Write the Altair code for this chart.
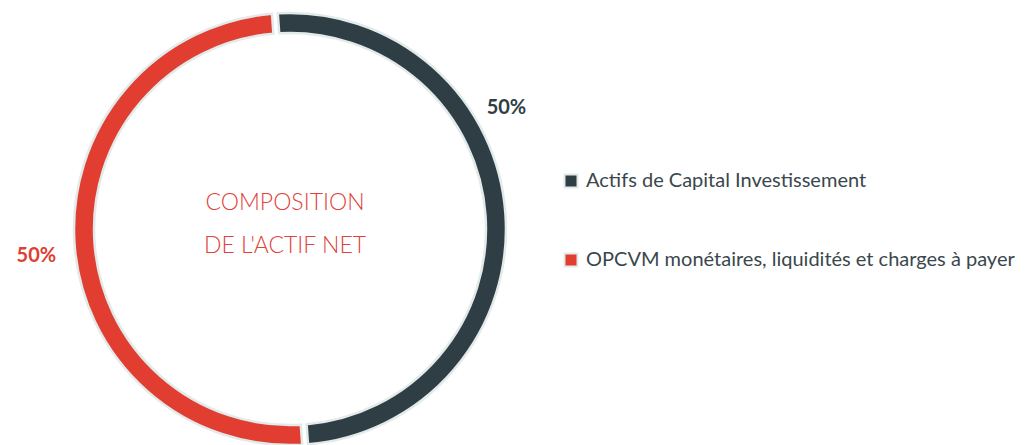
import math
import altair as alt
import pandas as pd

categories = ["Actifs de Capital Investissement",
              "OPCVM monétaires, liquidités et charges à payer"]
values = [50, 50]
labels = ["50%", "50%"]
order = [1, 2]
colors = ["#2f3e44", "#e23d31"]
center_lines = ["COMPOSITION", "DE L'ACTIF NET"]

df = pd.DataFrame({"cat": categories, "value": values, "label": labels, "order": order})

FONT = "Lato"
start = -0.07
theta_scale = alt.Scale(range=[start, start + 2 * math.pi])
color_scale = alt.Scale(domain=categories, range=colors)

base = alt.Chart(df)

ring = base.mark_arc(
    outerRadius=216, innerRadius=196, padAngle=0.02,
    stroke="#e2eaea", strokeWidth=2.5,
).encode(
    theta=alt.Theta("value:Q", stack=True, scale=theta_scale),
    color=alt.Color("cat:N", scale=color_scale, sort=categories,
                    legend=alt.Legend(
                        title=None, orient="none", legendX=553, legendY=163,
                        symbolType="square", symbolSize=170,
                        symbolStrokeColor="#e2eaea", symbolStrokeWidth=2,
                        labelFont=FONT, labelFontSize=20, labelColor="#3a474c",
                        labelOffset=5, rowPadding=57, labelLimit=600)),
    order=alt.Order("order:Q"),
    x=alt.value(282), y=alt.value(221),
)

def label_layer(cat, color, offset, radius):
    return base.mark_text(
        radius=radius, thetaOffset=offset, font=FONT, fontSize=20, fontWeight="bold",
        align="center", baseline="middle", color=color,
    ).encode(
        theta=alt.Theta("value:Q", stack=True, scale=theta_scale),
        order=alt.Order("order:Q"),
        text=alt.Text("label:N"),
        x=alt.value(282), y=alt.value(221),
        opacity=alt.condition(alt.datum.cat == cat, alt.value(1), alt.value(0)),
    )

lab1 = label_layer(categories[0], colors[0], -0.44, 248)
lab2 = label_layer(categories[1], colors[1], -0.035, 255)

center = alt.Chart(pd.DataFrame({"t": [center_lines]})).mark_text(
    font=FONT, fontSize=23, fontWeight=300, color="#e0433a",
    align="center", baseline="middle", lineHeight=43,
).encode(text="t", x=alt.value(277), y=alt.value(195))

chart = alt.layer(ring, lab1, lab2, center).properties(
    width=1013, height=437, autosize="none", padding=0, background="white"
).configure_view(stroke=None)

chart.save("out.html", embed_options={"renderer": "svg", "actions": False})
